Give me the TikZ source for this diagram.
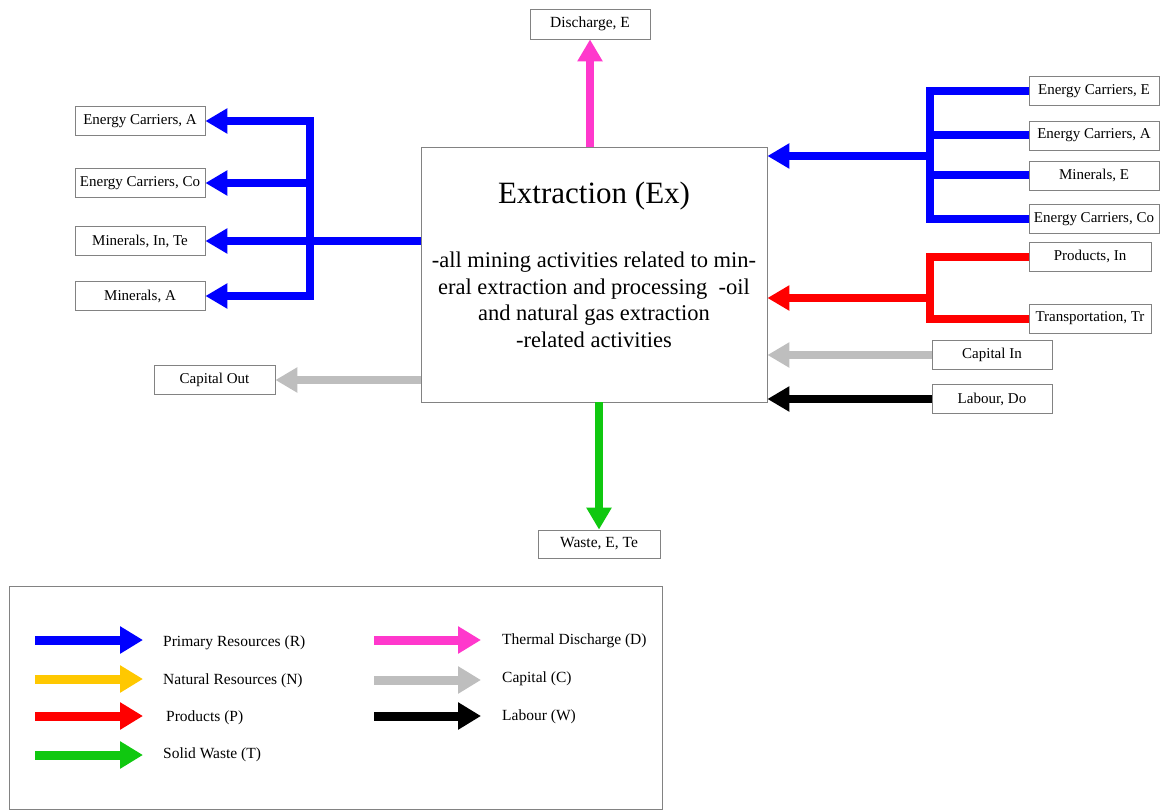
\documentclass[tikz,border=0pt]{standalone}
\usepackage{fontspec}
\setmainfont{Liberation Serif}
\usetikzlibrary{arrows.meta}
\definecolor{fblue}{RGB}{0,0,255}
\definecolor{fred}{RGB}{255,0,0}
\definecolor{fgreen}{RGB}{16,200,16}
\definecolor{fpink}{RGB}{255,56,204}
\definecolor{fgrey}{RGB}{190,190,190}
\definecolor{fyellow}{RGB}{255,200,0}
\definecolor{edge}{RGB}{130,130,130}
\begin{document}
\begin{tikzpicture}[x=1pt,y=-1pt,
  flowbox/.style={draw=edge, line width=0.8pt, fill=white, inner sep=0pt,
    minimum width=130pt, minimum height=29pt, font=\fontsize{15}{17}\selectfont},
  smallbox/.style={flowbox, font=\fontsize{15.5}{17}\selectfont},
  flow/.style={line width=8pt, -{Triangle[length=22pt,width=24pt]}},
  trunk/.style={line width=8pt, line cap=rect},
  keyarrow/.style={line width=9pt, -{Triangle[length=23pt,width=26pt]}},
  keytext/.style={anchor=west, inner sep=0pt, font=\fontsize{15.5}{18}\selectfont}
]
\useasboundingbox (0,0) rectangle (1166,810);

% central activity box
\node[draw=edge, line width=0.8pt, minimum width=346pt, minimum height=255pt, inner sep=0pt]
  (ex) at (594,274.5) {};
\node[font=\fontsize{31}{34}\selectfont, inner sep=0pt] (title) at (594,196) {Extraction (Ex)};
\node[font=\fontsize{22.5}{26.5}\selectfont, align=center, inner sep=0pt] (desc) at (594,300)
  {-all mining activities related to min-\\
   eral extraction and processing\ \ -oil\\
   and natural gas extraction\\
   -related activities};

% outputs on the left
\node[flowbox] (eca)  at (140,121) {Energy Carriers, A};
\node[flowbox] (ecco) at (140,183) {Energy Carriers, Co};
\node[flowbox] (mit)  at (140,241) {Minerals, In, Te};
\node[flowbox] (mia)  at (140,296) {Minerals, A};
\node[flowbox, minimum width=121pt] (capout) at (214.5,380) {Capital Out};

% top and bottom
\node[smallbox, minimum width=120pt, minimum height=30pt] (dis) at (590,24) {Discharge, E};
\node[smallbox, minimum width=122pt, minimum height=28pt] (waste) at (599,544) {Waste, E, Te};

% inputs on the right
\node[flowbox] (ece)   at (1094,91)    {Energy Carriers, E};
\node[flowbox] (eca2)  at (1094,135.5) {Energy Carriers, A};
\node[flowbox] (mine)  at (1094,175.5) {Minerals, E};
\node[flowbox] (ecco2) at (1094,219)   {Energy Carriers, Co};
\node[flowbox, minimum width=122pt] (prod)  at (1090,256.5) {Products, In};
\node[flowbox, minimum width=122pt] (trans) at (1090,318.5) {Transportation, Tr};
\node[flowbox, minimum width=120pt] (capin) at (992,355)  {Capital In};
\node[flowbox, minimum width=120pt] (lab)   at (992,399)  {Labour, Do};

% branch points
\coordinate (lt) at (310,241);
\coordinate (rt) at (930,156);
\coordinate (pt) at (930,298);

% left blue tree
\draw[fblue, trunk] (lt |- eca.east) -- (lt |- mia.east);
\draw[fblue, flow] (ex.west |- mit.east) -- (mit.east);
\draw[fblue, flow] (lt |- eca.east) -- (eca.east);
\draw[fblue, flow] (lt |- ecco.east) -- (ecco.east);
\draw[fblue, flow] (lt |- mia.east) -- (mia.east);

% capital out
\draw[fgrey, flow] (ex.west |- capout.east) -- (capout.east);

% thermal discharge and waste
\draw[fpink, flow] (ex.north -| dis.south) -- (dis.south);
\draw[fgreen, flow] (ex.south -| waste.north) -- (waste.north);

% right blue tree
\draw[fblue, trunk] (rt |- ece.west) -- (rt |- ecco2.west);
\draw[fblue, line width=8pt] (ece.west) -- (rt |- ece.west);
\draw[fblue, line width=8pt] (eca2.west) -- (rt |- eca2.west);
\draw[fblue, line width=8pt] (mine.west) -- (rt |- mine.west);
\draw[fblue, line width=8pt] (ecco2.west) -- (rt |- ecco2.west);
\draw[fblue, flow] (rt) -- (rt -| ex.east);

% products
\draw[fred, trunk] (pt |- prod.west) -- (pt |- trans.west);
\draw[fred, line width=8pt] (prod.west) -- (pt |- prod.west);
\draw[fred, line width=8pt] (trans.west) -- (pt |- trans.west);
\draw[fred, flow] (pt) -- (pt -| ex.east);

% capital and labour in
\draw[fgrey, flow] (capin.west) -- (capin.west -| ex.east);
\draw[black, flow] (lab.west) -- (lab.west -| ex.east);

% legend
\node[draw=edge, line width=0.8pt, minimum width=653pt, minimum height=223pt, inner sep=0pt]
  (legend) at (335.5,697.5) {};
\coordinate (k1) at (35,640);
\coordinate (k2) at (35,679);
\coordinate (k3) at (35,716);
\coordinate (k4) at (35,755);
\coordinate (k5) at (374,640);
\coordinate (k6) at (374,680);
\coordinate (k7) at (374,716);
\draw[fblue, keyarrow] (k1) -- ++(108,0);
\draw[fyellow, keyarrow] (k2) -- ++(108,0);
\draw[fred, keyarrow] (k3) -- ++(108,0);
\draw[fgreen, keyarrow] (k4) -- ++(108,0);
\draw[fpink, keyarrow] (k5) -- ++(107,0);
\draw[fgrey, keyarrow] (k6) -- ++(107,0);
\draw[black, keyarrow] (k7) -- ++(107,0);
\node[keytext] (l1) at (163,643) {Primary Resources (R)};
\node[keytext] (l2) at (163,681) {Natural Resources (N)};
\node[keytext] (l3) at (166,718) {Products (P)};
\node[keytext] (l4) at (163,755) {Solid Waste (T)};
\node[keytext] (l5) at (502,641) {Thermal Discharge (D)};
\node[keytext] (l6) at (502,679) {Capital (C)};
\node[keytext] (l7) at (502,717) {Labour (W)};
\end{tikzpicture}
\end{document}
